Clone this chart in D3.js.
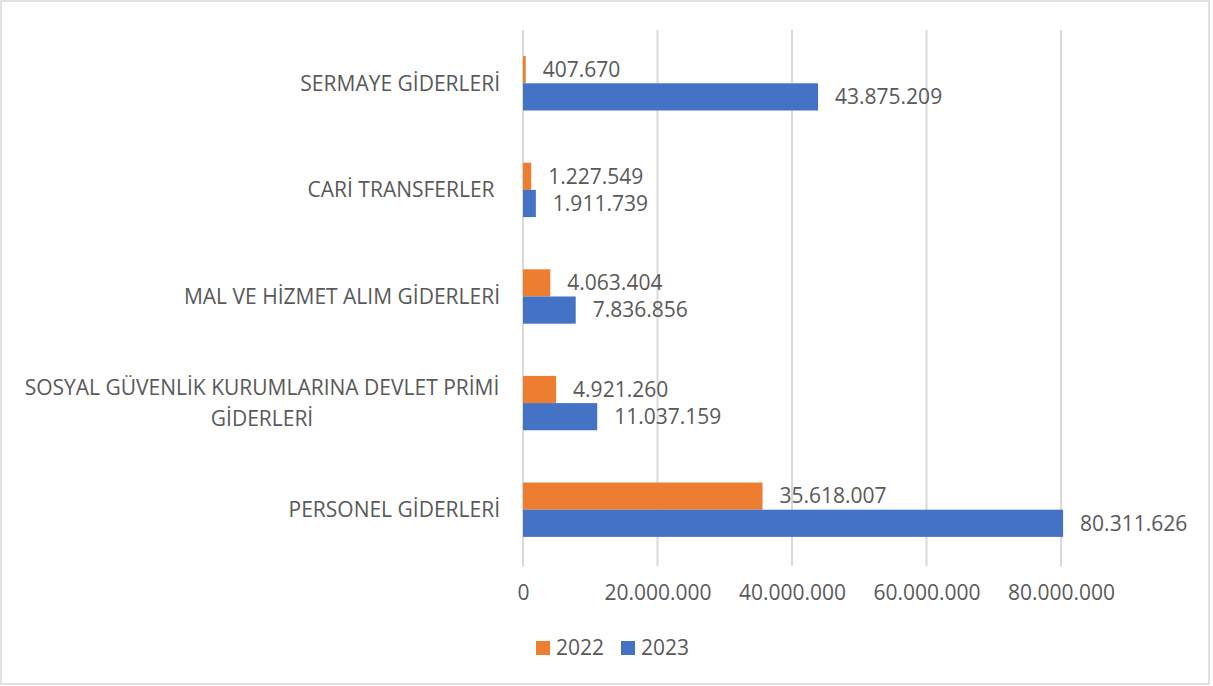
<!DOCTYPE html>
<html lang="tr">
<head>
    <meta charset="UTF-8">
    <script src="https://d3js.org/d3.v7.min.js"></script>
    <title>giderler</title>
    <style>
        body { margin: 0; background: #fff; }
        text { font-family: "Open Sans", sans-serif; fill: #595959; }
    </style>
</head>
<body>
    <script type="text/javascript">

// kategoriler yukaridan asagiya
var categories = ["SERMAYE GİDERLERİ", "CARİ TRANSFERLER ", "MAL VE HİZMET ALIM GİDERLERİ",
                  "SOSYAL GÜVENLİK KURUMLARINA DEVLET PRİMİ\nGİDERLERİ", "PERSONEL GİDERLERİ"];
var series = ["2022", "2023"];
var values2022 = [407670, 1227549, 4063404, 4921260, 35618007];
var values2023 = [43875209, 1911739, 7836856, 11037159, 80311626];
var xTicks = [0, 20000000, 40000000, 60000000, 80000000];
var colors = ["#ED7D31", "#4472C4"];

var width = 1213, height = 686;
var plotLeft = 523, plotRight = 1061, plotTop = 30, plotBottom = 563;
var fs = "21px";

var tr = d3.formatLocale({decimal: ",", thousands: ".", grouping: [3], currency: ["", ""]});
var fmt = tr.format(",d");

var svg = d3.select("body").append("svg").attr("width", width).attr("height", height);

svg.append("rect").attr("x", 1).attr("y", 1).attr("width", 1208).attr("height", 683)
    .attr("fill", "#fff").attr("stroke", "#d9d9d9").attr("stroke-width", 1.5);

var x = d3.scaleLinear().domain([0, 80000000]).range([plotLeft, plotRight]);
var y = d3.scaleBand().domain(categories).range([plotTop, plotBottom]).paddingInner(0.49).paddingOuter(0.245);
var ySub = d3.scaleBand().domain(series).range([0, y.bandwidth()]);

// grid
svg.append("g").selectAll("line").data(xTicks).enter().append("line")
    .attr("x1", function(d) { return x(d); }).attr("x2", function(d) { return x(d); })
    .attr("y1", plotTop).attr("y2", plotBottom + 3)
    .attr("stroke", "#d9d9d9").attr("stroke-width", 2);

var xAxis = d3.axisBottom(x).tickValues(xTicks).tickFormat(function(d) { return d === 0 ? "0" : fmt(d); }).tickSize(0).tickPadding(0);
var gx = svg.append("g").attr("transform", "translate(0," + 593 + ")").call(xAxis);
gx.select(".domain").remove();
gx.selectAll("text").attr("font-size", fs).attr("y", 0).attr("dy", "0.35em")
    .style("font-family", "Open Sans").attr("fill", "#595959");

// category labels
var catG = svg.append("g");
categories.forEach(function(c) {
    var lines = c.split("\n");
    var cy = y(c) + y.bandwidth() / 2;
    var t = catG.append("text").attr("font-size", fs).style("white-space", "pre")
        .attr("text-anchor", lines.length > 1 ? "middle" : "end");
    var lh = 31;
    lines.forEach(function(l, i) {
        t.append("tspan")
            .attr("x", lines.length > 1 ? 262 : 500)
            .attr("y", cy + (i - (lines.length - 1) / 2) * lh)
            .attr("dy", "0.35em")
            .text(l);
    });
});

var data = [values2022, values2023];
series.forEach(function(s, si) {
    var g = svg.append("g");
    g.selectAll("rect").data(data[si]).enter().append("rect")
        .attr("x", x(0))
        .attr("y", function(d, i) { return y(categories[i]) + ySub(s); })
        .attr("width", function(d) { return x(d) - x(0); })
        .attr("height", ySub.bandwidth())
        .attr("fill", colors[si]);
    g.selectAll("text").data(data[si]).enter().append("text")
        .attr("x", function(d) { return x(d) + 17; })
        .attr("y", function(d, i) { return y(categories[i]) + ySub(s) + ySub.bandwidth() / 2; })
        .attr("dy", "0.35em")
        .attr("font-size", fs)
        .text(function(d) { return fmt(d); });
});

// legend
var leg = svg.append("g");
var legX = [536, 621];
series.forEach(function(s, i) {
    leg.append("rect").attr("x", legX[i]).attr("y", 641).attr("width", 14).attr("height", 14).attr("fill", colors[i]);
    leg.append("text").attr("x", legX[i] + 20).attr("y", 648).attr("dy", "0.35em")
        .attr("font-size", fs).text(s);
});

    </script>
</body>
</html>
